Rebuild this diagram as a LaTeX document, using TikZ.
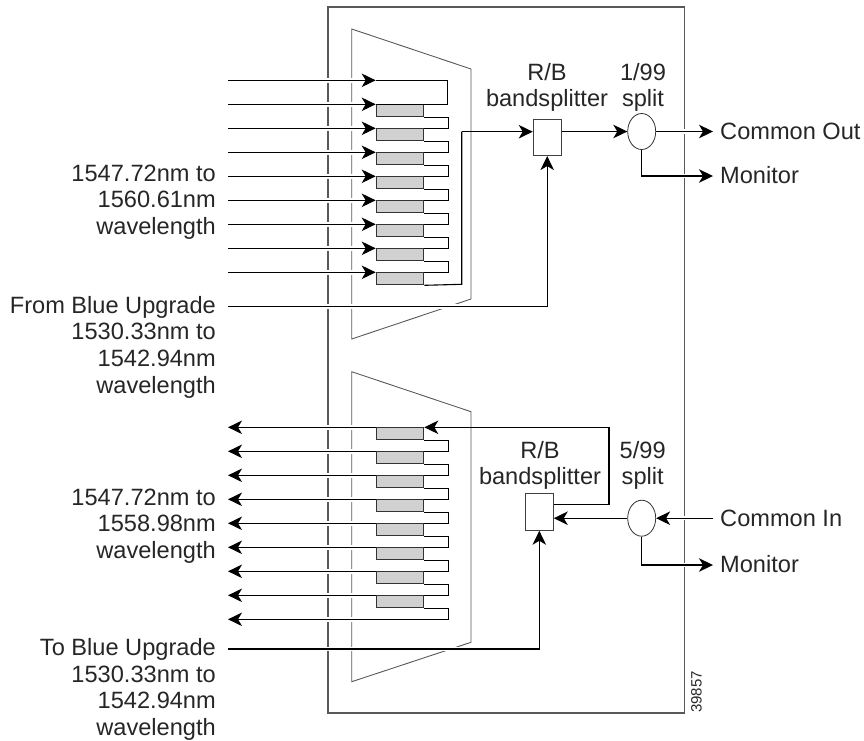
\documentclass[tikz,border=0pt]{standalone}
\usepackage{fontspec}
\setmainfont{Liberation Sans}
\usetikzlibrary{arrows.meta,shapes.geometric}
\definecolor{filtergray}{gray}{0.82}
\definecolor{framegray}{gray}{0.35}
\definecolor{labelgray}{gray}{0.15}
\tikzset{
  fiber/.style={draw=black,line width=1.1pt},
  arrowfiber/.style={fiber,-{Stealth[length=14pt,width=13.5pt,inset=4pt]}},
  halofiber/.style={arrowfiber,preaction={draw=white,line width=4.5pt,-}},
  frameline/.style={draw=framegray,line width=1.1pt},
  filterbox/.style={draw=black!80,fill=filtergray,line width=1pt,minimum width=47.6pt,minimum height=12pt,inner sep=0pt,anchor=north west},
  splitterbox/.style={draw=black!75,fill=white,line width=0.9pt,minimum width=28pt,minimum height=36.6pt,inner sep=0pt},
  splitnode/.style={draw=black!80,fill=white,ellipse,line width=0.8pt,minimum width=28pt,minimum height=36pt,inner sep=0pt},
  label/.style={align=center,text=labelgray,font=\fontsize{23.6}{26.6}\selectfont,inner sep=0pt},
  leftlabel/.style={align=right,text=labelgray,font=\fontsize{23.6}{26.6}\selectfont,inner sep=0pt,anchor=east},
  sidelabel/.style={anchor=west,text=labelgray,font=\fontsize{23.6}{26.6}\selectfont,inner sep=0pt}
}
\begin{document}
\begin{tikzpicture}[x=1pt,y=-1pt]
\useasboundingbox (0,0) rectangle (864,740);

% Chassis
  \draw[frameline] (328,7) rectangle (684.7,713);

% Trapezoids
  \draw[frameline,line width=0.9pt] (351.7,29) -- (471,69) -- (471,299) -- (351.7,339) -- cycle;
  \draw[frameline,line width=0.9pt] (351.7,371.7) -- (471,411.7) -- (471,642.3) -- (351.7,681.7) -- cycle;

% Filters (mux)
  \foreach \k in {1,...,8}{
  \pgfmathparse{80.3+24*\k}
  \let\y\pgfmathresult
  \node[filterbox] (mux\k) at (375.7,\y) {};
  }

% Filters (demux)
  \foreach \k in {1,...,8}{
  \pgfmathparse{403.3+24*\k}
  \let\y\pgfmathresult
  \node[filterbox] (dem\k) at (375.7,\y) {};
  }

% Splitters
  \node[splitterbox] (bandUp) at (547.2,137.3) {};
  \node[splitterbox] (bandDown) at (539.3,512) {};
  \node[splitnode] (splitUp) at (641.7,131.5) {};
  \node[splitnode] (splitDown) at (641.7,518.2) {};

% Inputs
  \coordinate (topTurn) at (447.3,80.3);
  \coordinate (topIn) at (228,80.3);
  \draw[halofiber] (topIn) -- (375.7,80.3);
  \draw[fiber] (375.7,80.3) -- (topTurn) -- (447.3,104.3) -- (mux1.north west);
  \foreach \k in {1,...,8}{
  \pgfmathparse{80.3+24*\k}
  \let\y\pgfmathresult
  \coordinate (in\k) at (228,\y);
  \draw[halofiber] (in\k) -- (mux\k.north west);
  }
  \foreach \k/\j in {1/2,2/3,3/4,4/5,5/6,6/7,7/8}
  \draw[fiber] (mux\k.south east) -- ++(24,0) |- (mux\j.north east);

% Mux out
  \coordinate (muxOutA) at (461.7,284.3);
  \coordinate (muxOutB) at (461.7,131.7);
  \draw[fiber] (mux8.south east) -- (muxOutA) -- (muxOutB);
  \draw[arrowfiber] (muxOutB) -- (bandUp.west |- muxOutB);
  \draw[arrowfiber] (bandUp.east |- splitUp) -- (splitUp.west);

% From blue
  \coordinate (blueIn) at (228,306.3);
  \draw[halofiber] (blueIn) -| (bandUp.south);

% Common out, monitor
  \coordinate (commonOut) at (713,131.5);
  \coordinate (monitorUp) at (713,176);
  \draw[halofiber] (splitUp.east) -- (commonOut);
  \draw[halofiber] (splitUp.south) |- (monitorUp);

% Outputs
  \foreach \k in {1,...,8}{
  \pgfmathparse{403.3+24*\k}
  \let\y\pgfmathresult
  \coordinate (out\k) at (228,\y);
  \draw[halofiber] (dem\k.north west) -- (out\k);
  }
  \foreach \k/\j in {1/2,2/3,3/4,4/5,5/6,6/7,7/8}
  \draw[fiber] (dem\k.south east) -- ++(24,0) |- (dem\j.north east);
  \coordinate (lastOut) at (228,619.3);
  \draw[fiber] (dem8.south east) -- ++(24,0) |- (375.7,619.3);
  \draw[halofiber] (375.7,619.3) -- (lastOut);

% Demux in
  \coordinate (demInA) at (609,504.3);
  \coordinate (demInB) at (609,427.3);
  \draw[fiber] (bandDown.east |- demInA) -- (demInA) -- (demInB);
  \draw[arrowfiber] (demInB) -- (dem1.north east);
  \draw[arrowfiber] (splitDown.west) -- (bandDown.east |- splitDown);

% To blue
  \coordinate (blueOut) at (228,649);
  \draw[halofiber] (blueOut) -| (bandDown.south);

% Common in, monitor
  \coordinate (commonIn) at (713,518.2);
  \coordinate (monitorDown) at (713,565);
  \draw[halofiber] (commonIn) -- (splitDown.east);
  \draw[halofiber] (splitDown.south) |- (monitorDown);

% Labels
  \node[label] (rbUp) at (547,87.5) {R/B\\bandsplitter};
  \node[label] (pctUp) at (643,87.5) {1/99\\split};
  \node[sidelabel] (coutLabel) at (720,131) {Common Out};
  \node[sidelabel] (monUpLabel) at (720,175.5) {Monitor};
  \node[leftlabel] (waveUp) at (216,202) {1547.72nm to\\1560.61nm\\wavelength};
  \node[leftlabel] (fromBlue) at (216,347) {From Blue Upgrade\\1530.33nm to\\1542.94nm\\wavelength};
  \node[label] (rbDown) at (540,465.5) {R/B\\bandsplitter};
  \node[label] (pctDown) at (642.7,465.5) {5/99\\split};
  \node[sidelabel] (cinLabel) at (720,518) {Common In};
  \node[sidelabel] (monDownLabel) at (720,564) {Monitor};
  \node[leftlabel] (waveDown) at (216,526) {1547.72nm to\\1558.98nm\\wavelength};
  \node[leftlabel] (toBlue) at (216,689.5) {To Blue Upgrade\\1530.33nm to\\1542.94nm\\wavelength};
  \node[text=labelgray,font=\fontsize{15}{17}\selectfont,rotate=90,anchor=south west,inner sep=0pt] (figNum) at (702,713) {39857};
\end{tikzpicture}
\end{document}
